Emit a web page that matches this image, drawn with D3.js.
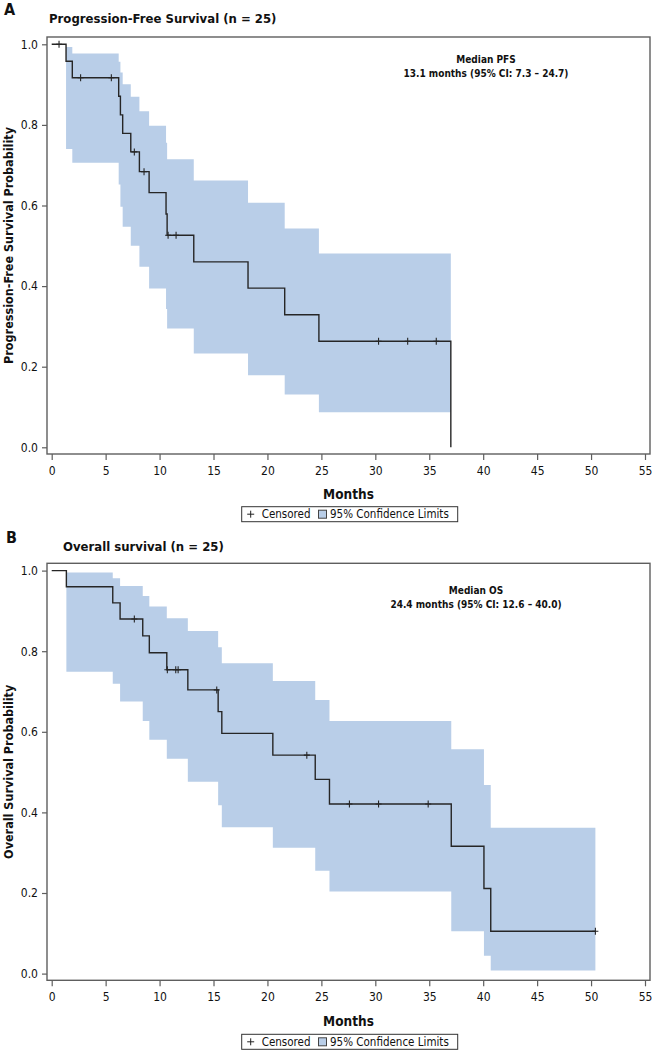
<!DOCTYPE html>
<html><head><meta charset="utf-8">
<script src="https://cdn.jsdelivr.net/npm/d3@7"></script>
<style>
body{margin:0;background:#fff}
svg{display:block}
text{font-family:"DejaVu Sans Condensed","DejaVu Sans",sans-serif;fill:#111}
</style>
</head><body>
<svg id="chart" width="653" height="1050"></svg>
<script>
// ---------- data ----------
const xTicks = [0,5,10,15,20,25,30,35,40,45,50,55];
const yTicks = [0,0.2,0.4,0.6,0.8,1.0];

// Panel A: Progression-free survival
const pfsEventTimes = [1.33,1.91,6.21,6.37,6.58,7.33,8.13,9.03,10.6,10.7,13.17,18.2,21.6,24.77,37.0];
const pfsSurvival   = [0.958,0.917,0.871,0.825,0.779,0.733,0.684,0.632,0.579,0.526,0.460,0.395,0.329,0.263,0.0];
const pfsUpper      = [0.993,0.977,0.957,0.930,0.901,0.870,0.834,0.798,0.756,0.715,0.662,0.607,0.543,0.481];
const pfsLower      = [0.740,0.706,0.652,0.597,0.547,0.500,0.448,0.394,0.343,0.295,0.233,0.179,0.131,0.087];
const pfsCensored   = [0.68,2.68,5.53,7.66,8.56,10.79,11.53,30.3,33.0,35.65];
const pfsEnd = 37.0;

// Panel B: Overall survival
const osEventTimes = [1.36,5.66,6.34,8.44,9.05,10.67,12.62,15.43,15.77,20.5,24.43,25.75,37.04,40.07,40.7];
const osSurvival   = [0.960,0.920,0.880,0.838,0.796,0.754,0.704,0.650,0.596,0.542,0.482,0.421,0.316,0.211,0.105];
const osUpper      = [0.995,0.981,0.962,0.937,0.911,0.882,0.850,0.810,0.770,0.726,0.679,0.627,0.557,0.468,0.362];
const osLower      = [0.749,0.719,0.675,0.627,0.580,0.533,0.476,0.418,0.363,0.312,0.255,0.204,0.105,0.044,0.008];
const osCensored   = [7.66,10.72,11.5,11.72,15.3,23.65,27.6,30.3,34.9,50.4];
const osEnd = 50.4;

// ---------- drawing ----------
const svg = d3.select("#chart");
const bandColor = "#b9cee8";
const lineColor = "#262626";
const frameColor = "#5e5e5e";
const left = 47, right = 650;

const x = d3.scaleLinear().domain([0,55]).range([51.7,645]);

function drawPanel(cfg){
  const g = svg.append("g");
  const top = cfg.top, bottom = cfg.top + 417;
  const y = d3.scaleLinear().domain([0,1]).range([cfg.top+410.3, cfg.top+7.3]);

  // confidence band
  const bandPts = cfg.upper.map((u,i)=>({t:cfg.times[i],lo:cfg.lower[i],hi:u}));
  const lastB = bandPts[bandPts.length-1];
  bandPts.push({t:cfg.end, lo:lastB.lo, hi:lastB.hi});
  g.append("path")
    .attr("d", d3.area().curve(d3.curveStepAfter)
      .x(d=>x(d.t)).y0(d=>y(d.lo)).y1(d=>y(d.hi))(bandPts))
    .attr("fill", bandColor);

  // survival step curve
  const pts = [{t:0,s:1}].concat(cfg.times.map((t,i)=>({t:t,s:cfg.surv[i]})));
  pts.push({t:cfg.end, s:cfg.surv[cfg.surv.length-1]});
  g.append("path")
    .attr("d", d3.line().curve(d3.curveStepAfter).x(d=>x(d.t)).y(d=>y(d.s))(pts))
    .attr("fill","none").attr("stroke",lineColor).attr("stroke-width",1.4);

  // censor marks
  function survAt(t){
    let s = 1;
    cfg.times.forEach((et,i)=>{ if (et <= t) s = cfg.surv[i]; });
    return s;
  }
  g.selectAll(".cens").data(cfg.censored).enter().append("path")
    .attr("d", d=>{const cx=x(d), cy=y(survAt(d));
      return `M${cx},${cy-3.5}V${cy+3.5}M${cx-3},${cy}H${cx+3}`;})
    .attr("stroke",lineColor).attr("stroke-width",1.1).attr("fill","none");

  // frame
  g.append("rect").attr("x",left).attr("y",top).attr("width",right-left).attr("height",bottom-top)
    .attr("fill","none").attr("stroke",frameColor).attr("stroke-width",1.4);

  // axes
  const xa = g.append("g").attr("transform",`translate(0,${bottom})`)
    .call(d3.axisBottom(x).tickValues(xTicks).tickSize(6).tickPadding(6).tickSizeOuter(0));
  const ya = g.append("g").attr("transform",`translate(${left},0)`)
    .call(d3.axisLeft(y).tickValues(yTicks).tickFormat(d3.format(".1f")).tickSize(5).tickPadding(4).tickSizeOuter(0));
  [xa,ya].forEach(a=>{
    a.select(".domain").remove();
    a.selectAll(".tick line").attr("stroke",frameColor).attr("stroke-width",1.2);
    a.selectAll(".tick text").attr("font-size",12).attr("fill","#111")
      .attr("font-family",'"DejaVu Sans Condensed","DejaVu Sans",sans-serif');
  });

  // labels
  g.append("text").attr("x",cfg.letterX).attr("y",cfg.letterY).attr("font-size",16)
    .attr("font-weight","bold").text(cfg.letter);
  g.append("text").attr("x",cfg.titleX).attr("y",cfg.titleY).attr("font-size",13)
    .attr("font-weight","bold").text(cfg.title);
  g.append("text").attr("transform",`translate(12.5,${(top+bottom)/2}) rotate(-90)`)
    .attr("text-anchor","middle").attr("font-size",12.5).attr("font-weight","bold").text(cfg.yLabel);
  g.append("text").attr("x",(left+right)/2).attr("y",cfg.monthsY).attr("text-anchor","middle")
    .attr("font-size",13.5).attr("font-weight","bold").text("Months");
  g.append("text").attr("x",cfg.medX).attr("y",cfg.medY).attr("text-anchor","middle")
    .attr("font-size",10).attr("font-weight","bold").text(cfg.med1);
  g.append("text").attr("x",cfg.medX).attr("y",cfg.medY+14).attr("text-anchor","middle")
    .attr("font-size",10).attr("font-weight","bold").text(cfg.med2);

  // legend
  const ly = cfg.legendTop;
  g.append("rect").attr("x",241.7).attr("y",ly).attr("width",216).attr("height",15)
    .attr("fill","#fff").attr("stroke","#333").attr("stroke-width",1);
  const pc = 250.7, pyc = ly+7.5;
  g.append("path").attr("d",`M${pc},${pyc-3.5}V${pyc+3.5}M${pc-3.5},${pyc}H${pc+3.5}`)
    .attr("stroke","#222").attr("stroke-width",1);
  g.append("text").attr("x",261.7).attr("y",ly+11.5).attr("font-size",11.5).text("Censored");
  g.append("rect").attr("x",318.5).attr("y",ly+3.5).attr("width",8).attr("height",8)
    .attr("fill",bandColor).attr("stroke","#444").attr("stroke-width",1);
  g.append("text").attr("x",330).attr("y",ly+11.5).attr("font-size",11.5).text("95% Confidence Limits");
}

drawPanel({top:37, times:pfsEventTimes, surv:pfsSurvival, upper:pfsUpper, lower:pfsLower,
  censored:pfsCensored, end:pfsEnd, letter:"A", letterX:4, letterY:15,
  title:"Progression-Free Survival (n = 25)", titleX:49, titleY:23,
  yLabel:"Progression-Free Survival Probability", monthsY:498.5,
  med1:"Median PFS", med2:"13.1 months (95% CI: 7.3 – 24.7)", medX:486, medY:63,
  legendTop:506.7});

drawPanel({top:563.3, times:osEventTimes, surv:osSurvival, upper:osUpper, lower:osLower,
  censored:osCensored, end:osEnd, letter:"B", letterX:6, letterY:543.3,
  title:"Overall survival (n = 25)", titleX:63, titleY:550.7,
  yLabel:"Overall Survival Probability", monthsY:1026,
  med1:"Median OS", med2:"24.4 months (95% CI: 12.6 – 40.0)", medX:476, medY:593.5,
  legendTop:1034.3});
</script>
</body></html>
